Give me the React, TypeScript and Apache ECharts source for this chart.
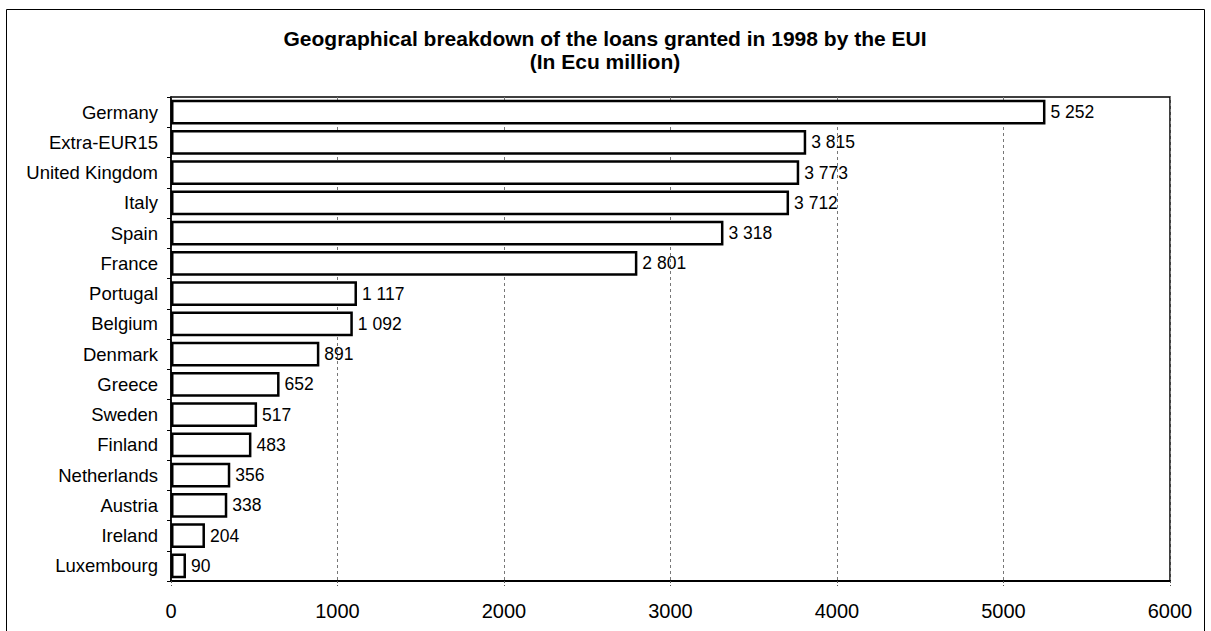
import React, { useEffect, useRef } from "react";
import * as echarts from "echarts";

const categories = [
  "Germany",
  "Extra-EUR15",
  "United Kingdom",
  "Italy",
  "Spain",
  "France",
  "Portugal",
  "Belgium",
  "Denmark",
  "Greece",
  "Sweden",
  "Finland",
  "Netherlands",
  "Austria",
  "Ireland",
  "Luxembourg",
];

const loans = [5252, 3815, 3773, 3712, 3318, 2801, 1117, 1092, 891, 652, 517, 483, 356, 338, 204, 90];

const xTicks = [0, 1000, 2000, 3000, 4000, 5000, 6000];

const titleLine1 = "Geographical breakdown of the loans granted in 1998 by the EUI";
const titleLine2 = "(In Ecu million)";

const FONT = "'Liberation Sans', Arial, sans-serif";

function fmt(v: number): string {
  return String(v).replace(/\B(?=(\d{3})+(?!\d))/g, " ");
}

export default function App() {
  const ref = useRef<HTMLDivElement>(null);

  useEffect(() => {
    if (!ref.current) return;
    const chart = echarts.init(ref.current, undefined, { renderer: "svg" });
    chart.setOption({
      animation: false,
      backgroundColor: "#ffffff",
      textStyle: { fontFamily: FONT },
      graphic: [
        {
          type: "rect",
          shape: { x: 6.5, y: 9.5, width: 1198, height: 660 },
          style: { fill: "none", stroke: "#000", lineWidth: 1 },
          silent: true,
        },
        {
          type: "text",
          x: 605,
          y: 38,
          style: {
            text: titleLine1,
            fontFamily: FONT,
            fontSize: 21,
            fontWeight: "bold",
            fill: "#000",
            textAlign: "center",
            textVerticalAlign: "middle",
          },
        },
        {
          type: "text",
          x: 605,
          y: 61,
          style: {
            text: titleLine2,
            fontFamily: FONT,
            fontSize: 21,
            fontWeight: "bold",
            fill: "#000",
            textAlign: "center",
            textVerticalAlign: "middle",
          },
        },
      ],
      grid: {
        left: 171,
        right: 41,
        top: 97,
        bottom: 50,
        show: true,
        borderColor: "#000",
        borderWidth: 1.5,
        backgroundColor: "transparent",
      },
      xAxis: {
        type: "value",
        min: 0,
        max: 6000,
        interval: 1000,
        axisLine: { show: true, lineStyle: { color: "#000", width: 2 } },
        axisTick: { show: true, inside: false, length: 5, lineStyle: { color: "#555", type: [2, 2] } },
        axisLabel: {
          margin: 20,
          fontSize: 20,
          color: "#000",
          fontFamily: FONT,
          formatter: (v: number) => (xTicks.includes(v) ? String(v) : ""),
        },
        splitLine: { show: true, lineStyle: { color: "#777", width: 1, type: [3, 3] } },
      },
      yAxis: {
        type: "category",
        data: categories,
        inverse: true,
        axisLine: { show: true, lineStyle: { color: "#000", width: 1.5 } },
        axisTick: { show: true, length: 4, alignWithLabel: false, lineStyle: { color: "#000" } },
        axisLabel: { margin: 13, fontSize: 18.5, color: "#000", fontFamily: FONT },
        splitLine: { show: false },
      },
      series: [
        {
          type: "bar",
          data: loans,
          barCategoryGap: "18%",
          itemStyle: { color: "#ffffff", borderColor: "#000", borderWidth: 2.5 },
          label: {
            show: true,
            position: "right",
            distance: 5,
            fontSize: 17.5,
            color: "#000",
            fontFamily: FONT,
            formatter: (p: any) => fmt(p.value),
          },
        },
      ],
    });
    return () => chart.dispose();
  }, []);

  return (
    <div
      ref={ref}
      style={{ position: "absolute", left: 0, top: 0, width: 1211, height: 631 }}
    />
  );
}
